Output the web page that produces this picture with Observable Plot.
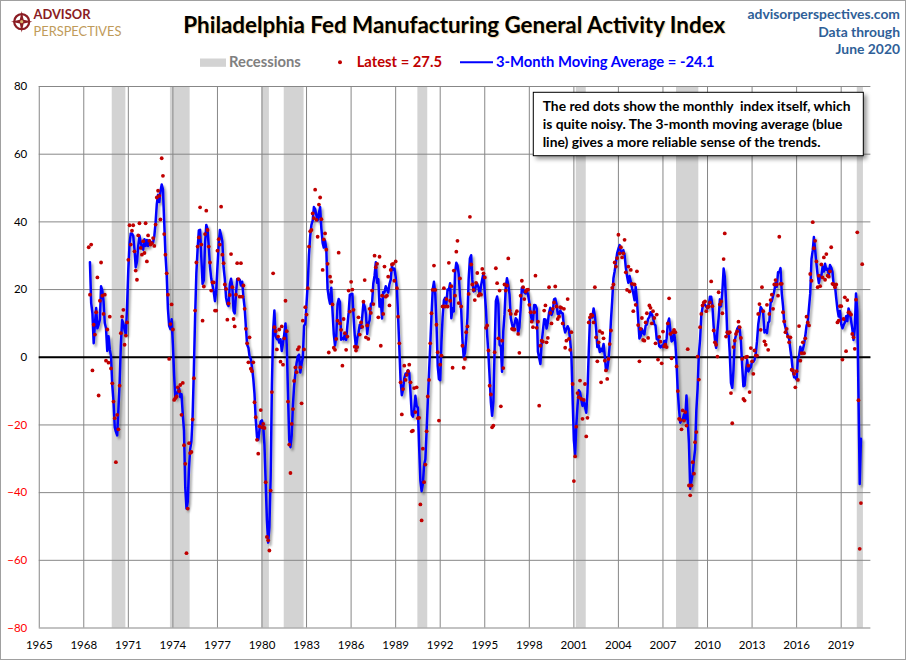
<!DOCTYPE html>
<html>
<head>
<meta charset="utf-8">
<script src="https://cdn.jsdelivr.net/npm/d3@7"></script>
<script src="https://cdn.jsdelivr.net/npm/@observablehq/plot@0.6"></script>
<style>
  html, body { margin: 0; padding: 0; background: #fff; }
  #wrap { position: relative; width: 910px; height: 661px; overflow: hidden; background: #fff; font-family: Lato, "Open Sans", sans-serif; }
  #hdr { display: block; }
  #plot svg { display: block; }
  #note { position: absolute; left: 528px; top: 88px; }
  .logo { position: absolute; left: 33.5px; white-space: nowrap; line-height: normal; font-family: Lato, "Open Sans", sans-serif; }
  #border { position: absolute; left: 0; top: 0; width: 906px; height: 660px; border: 1px solid #a0a0a0; box-sizing: border-box; pointer-events: none; }
</style>
</head>
<body>
<div id="wrap">
  <svg id="hdr" width="910" height="72"></svg>
  <div id="plot"></div>
  <svg id="note" width="345" height="78"></svg>
  <div id="logoA" class="logo" style="font-weight:bold;color:#8b1c23">ADVISOR</div>
  <div id="logoP" class="logo" style="font-weight:normal;color:#bf9b5a">PERSPECTIVES</div>
  <div id="border"></div>
</div>
<script>
// ---------------- DATA ----------------
// Monthly Philadelphia Fed General Activity Index, May 1968 .. June 2020
const firstYear = 1968, firstMonth = 5; // May 1968
const v1968_1979 = [
  32.5, 18.5, 33.3, -3.9, 9.6, 6.7, 13.3, 23.6,                                   // 1968 (May-Dec)
  -11.3, 16.7, 28, 18.2, 12.8, 18.5, -1, 8.2, -1.6, 12, -3.3, -7.7,               // 1969
  -13.1, -18, -31, -17, -21.3, -8.4, 7.1, 12, 14, 3.7, 6.4, 10.3,                 // 1970
  28.8, 39, 33.3, 37.4, 39, 31.3, 25.6, 22.9, 36, 39.6, 32.3, 30.3,               // 1971
  34.3, 30.8, 39.6, 28.3, 36, 34.4, 33.3, 33.7, 35.2, 32.9, 39.2, 47.2,           // 1972
  49.2, 47.7, 40.7, 58.8, 53.6, 36.4, 30.3, 24.8, 18.5, -0.5, 9.8, 15.6,          // 1973
  8.2, -12.6, -12.1, -11.6, -8.9, -10, -8.2, -17, -7.6, -26, -31.5, -57.9,        // 1974
  -44.7, -25.4, -28.3, -28, -18.4, -6.2, 13.8, 28, 32.7, 35.4, 44.3, 33.3,        // 1975
  10.8, 20.9, 36.4, 43.3, 37.6, 32.7, 28, 19.7, 22.1, 22.1, 13.8, 13.8,           // 1976
  31.5, 34.9, 33.3, 44.5, 30.3, 27.8, 21.5, 20.2, 11.1, 15.9, 18.4, 30.5,         // 1977
  20.7, 11.3, 9.1, 18.5, 27.8, 23.1, 17.9, 27.8, 17.9, 21.2, 14.3, 8.4,           // 1978
  4.1, -1.5, 5.9, -3.4, -4.1, -1.5, -13.3, -17.7, -24.4, -28.5, -20.4, -15.6      // 1979
];
const v1980_1989 = [
  -20.7, -19.7, -20.9, -36.9, -53.1, -54.1, -57.1, -39.4, -10.3, 24.8, 8.9, 7.7,  // 1980
  2.3, 6.1, 8.2, -1.3, 9.1, -2.2, 5.6, 16.7, 7.7, -13.1, -25.8, -34.2,            // 1981
  -19.7, -15.3, -7, -3, -4.4, 2.3, 3, -3, -13.6, 10.8, 2.3, 14.8,                 // 1982
  12.6, 20.4, 32.7, 37.2, 37.6, 42.5, 41.1, 49.5, 40.6, 35.6, 45.1, 47.2,         // 1983
  40.8, 25.8, 34.8, 36.6, 31.8, 27.6, 1.4, 23.8, 22.3, 15.6, 2.8, 2.2,            // 1984
  5.4, 10.8, 30.9, 10, 8.1, -2.5, 11.3, 7.1, 2.2, 6.1, 19.7, 13.5,                // 1985
  22.3, 20, 14, 3.1, 2, 3, 11.8, 6.7, 10.3, 9, 16.4, 22.8,                        // 1986
  5.9, 9.4, 5.4, 14.3, 13.1, 19.7, 15.7, 30, 26.6, 27.6, 11.8, 29.7,              // 1987
  3.4, 18.2, 12.8, 26.8, 17.9, 18.2, 23.8, 15.3, 25.8, 27.4, 27.6, 22.6,          // 1988
  28.3, 20.4, 12, 4.1, -7.4, -16.9, -9.4, -2.5, -6.7, -5.2, -4.1, -2.2            // 1989
];
const v1990_1999 = [
  -7.4, -21.9, -21.7, -9.1, -16.2, -8.9, -18, -17.9, -43.5, -48.2, -27, -36.9,    // 1990
  -31.7, -21.9, -11.6, -6.7, 4.1, 13, 19.9, 27.1, 19.9, 9.6, 1.5, -18.7,          // 1991
  -2.2, 0.5, 15, 20.4, 15, 17.2, 15, 27.9, 16.7, 21, -3.1, 25.6,                  // 1992
  18.2, 31.2, 34.4, 16, 23.3, 15, 3.4, -3.1, -0.5, 7.4, 9.1, 18.7,                // 1993
  41.5, 27.4, 21.5, 19.9, 16.9, 22, 24.9, 18.2, 18.7, 18.5, 26.1, 24.8,           // 1994
  23.6, 8.7, 9.4, 2, -8.4, -11, -20.7, -20.2, 1.5, 26.3, 21.9, 5.6,               // 1995
  19.7, -14.5, 4.9, -3.2, 21.5, 19.7, 21.2, 29.2, 13.8, 12.8, 8.4, 8.2,           // 1996
  8.2, 12.8, 13.6, 6.9, 1.3, 18.2, 22.6, 20.7, 17.2, 19.4, 19.9, 20,              // 1997
  15.5, 13.3, 10.5, 8.9, 13.3, 24.1, 8.7, 10.5, -14.3, 3.4, 4.9, 4.6,             // 1998
  13.8, 15.3, 4.4, 5.7, 20.7, 13.1, 10, 14.3, 16.2, 20.9, 15, 11.3                // 1999
];
const v2000_2009 = [
  12, 14.8, 14.6, 10, 14.3, 2.8, 4.9, 17.2, 5.4, 2.2, 7.4, -7.9,                  // 2000
  -36.6, -29.3, -20.5, -10.6, -11.8, -6.9, -12.3, -18.2, -12.6, -7.9, -23.4, -17.9, // 2001
  10.3, 11.8, 12.6, 12.3, 10.3, 20.7, 5.9, -1.2, 4.4, 7.7, -7.4, 7.2,             // 2002
  5.6, -1, -3.9, -6.4, -0.5, 3.9, 7.9, 20.5, 21.5, 28, 26.8, 29.3,                // 2003
  36.2, 30.7, 32.5, 29.5, 30.7, 34.7, 25.1, 19.9, 26.8, 19.4, 25.8, 21.7,         // 2004
  13.6, 21.5, 15.5, 25.4, 9.5, -1.2, 8.4, 11.6, 5.1, 4.9, 10.3, 13,               // 2005
  5.7, 15.3, 14.6, 10, 13.6, 11.6, 4.1, 12.6, -0.7, 6, 4.6, -1.8,                 // 2006
  7.6, 3.2, 3.7, 3, 10, 17.4, 6.9, -0.3, 7.4, 8.1, 7.4, -2.7,                     // 2007
  -10, -18.2, -18.5, -21.3, -15.7, -18.7, -16.2, -20.2, 2.4, -37.9, -40.8, -37.9, // 2008
  -31, -34.4, -25.1, -22.1, 0.2, -6.6, 8.9, 12.8, 15.3, 16.2, 16.5, 13.6          // 2009
];
const v2010_2020 = [
  14.8, 15, 16.2, 22.4, 15.1, 7.9, 4.4, 3.7, 0.2, 19.2, 15.6, 16.5,               // 2010
  13, 29, 36.6, 6.1, 7.4, 7.1, 7.4, -10.6, -19.5, 3, 4.9, 6.9,                    // 2011
  7.7, 10.5, 8.9, 5.7, -0.5, -12.3, -12.8, 0, 0.2, -2.5, -10.3, 2.7,              // 2012
  -1.2, -4.9, 2, 0.5, 0.5, 12.8, 15.7, 8.1, 20.7, 13.6, 4.7, 3.7,                 // 2013
  15.5, 2.2, 12.8, 16.9, 18.5, 14.3, 21.5, 22.8, 21.5, 18.2, 35.6, 21.7,          // 2014
  21.7, 13.3, 10.6, 7.4, 8.4, 6.1, 4.4, 5.9, -3.7, -3.9, -4.9, -8.9,              // 2015
  -4.1, -6.7, 9.2, -1, 1.2, 4.4, 1.2, 5.6, 12, 10.3, 9.4, 24.6,                   // 2016
  22.6, 39.9, 32.2, 34.4, 28.3, 20.7, 24.1, 21, 27.4, 23.6, 29.5, 22.9,           // 2017
  30.5, 24.1, 23.8, 25.4, 32.5, 21.7, 21.5, 20.7, 21.5, 10.3, 10.8, 15.1,         // 2018
  15.1, -0.7, 11.3, 17.7, 1.8, 16.9, 13.3, 13.1, 12.6, 6.9, 5.9, 2.5,             // 2019
  17, 36.9, -12.7, -56.6, -43.1, 27.5                                             // 2020 (Jan-Jun)
];
// NBER recessions (month start .. month end as drawn)
const recessionStart = ["1969-12", "1973-11", "1980-01", "1981-07", "1990-07", "2001-03", "2007-12", "2020-02"];
const recessionEnd   = ["1970-11", "1975-03", "1980-07", "1982-11", "1991-03", "2001-11", "2009-06", "2020-07"];
// Axis ticks
const xTickYears = [1965, 1968, 1971, 1974, 1977, 1980, 1983, 1986, 1989, 1992, 1995, 1998, 2001, 2004, 2007, 2010, 2013, 2016, 2019];
const yTicks = [-80, -60, -40, -20, 0, 20, 40, 60, 80];
const xDomainYears = [1965, 2021];
// Text
const titleText = "Philadelphia Fed Manufacturing General Activity Index";
const noteLines = ["The red dots show the monthly  index itself, which", "is quite noisy. The 3-month moving average (blue", "line) gives a more reliable sense of the trends."];
const rightLines = ["advisorperspectives.com", "Data through", "June 2020"];

// ---------------- BUILD ----------------
const values = [].concat(v1968_1979, v1980_1989, v1990_1999, v2000_2009, v2010_2020);
const data = values.map((v, i) => ({date: new Date(Date.UTC(firstYear, firstMonth - 1 + i, 1)), value: v}));
// 3-month moving average, drawn at the middle month of each 3-month window (as in the reference)
const maData = data.slice(2).map((d, i) => ({date: data[i + 1].date, ma: (values[i] + values[i + 1] + values[i + 2]) / 3}));
const latest = values[values.length - 1];
const latestMA = maData[maData.length - 1].ma;
const parseM = d3.utcParse("%Y-%m");
const recessions = recessionStart.map((s, i) => ({start: parseM(s), end: parseM(recessionEnd[i])}));
const xTicks = xTickYears.map(y => new Date(Date.UTC(y, 0, 1)));
const gridColor = "#878787";
const FONT = "Lato, 'Open Sans', sans-serif";

const chart = Plot.plot({
  width: 910,
  height: 589,
  marginLeft: 38.75,
  marginRight: 39.6,
  marginTop: 14,
  marginBottom: 33.5,
  style: {fontFamily: FONT, fontSize: "11.5px", background: "transparent", color: "#000"},
  x: {type: "utc", domain: xDomainYears.map(y => new Date(Date.UTC(y, 0, 1)))},
  y: {domain: [yTicks[0], yTicks[yTicks.length - 1]]},
  marks: [
    Plot.rect(recessions, {x1: "start", x2: "end", fill: "#d3d3d3"}),
    Plot.gridX(xTicks, {stroke: gridColor, strokeOpacity: 1, strokeWidth: 1}),
    Plot.gridY(yTicks, {stroke: gridColor, strokeOpacity: 1, strokeWidth: 1}),
    Plot.ruleY([0], {stroke: "#000", strokeWidth: 2}),
    Plot.line(maData, {x: "date", y: "ma", stroke: "#0000ff", strokeWidth: 2.5}),
    Plot.dot(data, {x: "date", y: "value", r: 1.9, fill: "#c00000"}),
    Plot.axisX(xTicks, {tickSize: 0, tickPadding: 13, tickFormat: d3.utcFormat("%Y"), label: null, fill: "#000", fontSize: 11.5}),
    Plot.axisY(yTicks.filter(t => t >= 0), {tickSize: 0, tickPadding: 12, label: null, fill: "#000", fontSize: 11.5}),
    Plot.axisY(yTicks.filter(t => t < 0), {tickSize: 0, tickPadding: 12, label: null, fill: "#ff0000", fontSize: 11.5})
  ]
});
document.getElementById("plot").appendChild(chart);

// drop shadow for the moving-average line
const svgSel = d3.select(chart);
const defs = svgSel.insert("defs", ":first-child");
defs.append("filter").attr("id", "lineShadow").attr("x", "-5%").attr("y", "-5%").attr("width", "110%").attr("height", "110%")
  .append("feDropShadow").attr("dx", 2).attr("dy", 2.5).attr("stdDeviation", 1.3)
  .attr("flood-color", "#000").attr("flood-opacity", 0.35);
svgSel.selectAll('g[aria-label="line"]').attr("filter", "url(#lineShadow)");

// ---------------- HEADER ----------------
const hdr = d3.select("#hdr");
function addText(sel, txt, x, y, opts) {
  const t = sel.append("text").attr("x", x).attr("y", y).text(txt)
    .attr("font-family", FONT).attr("font-size", opts.size || 13)
    .attr("font-weight", opts.weight || "bold").attr("fill", opts.fill || "#000")
    .attr("text-anchor", opts.anchor || "start").style("white-space", "pre");
  return t;
}
function fitSize(t, width) {
  const fs = parseFloat(t.attr("font-size"));
  const w = t.node().getComputedTextLength();
  const nfs = fs * width / w;
  t.attr("font-size", nfs);
  return nfs;
}
// logo mark
const logo = hdr.append("g");
logo.append("circle").attr("cx", 21.7).attr("cy", 21.7).attr("r", 7.5).attr("fill", "none").attr("stroke", "#8b1c23").attr("stroke-width", 2.2);
logo.append("polygon").attr("points", "21.7,11 23.6,19.8 32.4,21.7 23.6,23.6 21.7,32.4 19.8,23.6 11,21.7 19.8,19.8").attr("fill", "#8b1c23");
logo.append("circle").attr("cx", 21.7).attr("cy", 21.7).attr("r", 1.6).attr("fill", "#d8b56a");
// logo words, stacked so that their text boxes just touch
function sizeLogo(id, targetWidth) {
  const el = document.getElementById(id);
  el.style.fontSize = "12px";
  const w = el.getBoundingClientRect().width;
  const fs = 12 * targetWidth / w;
  el.style.fontSize = fs + "px";
  return el;
}
const eA = sizeLogo("logoA", 57);
const fsA = parseFloat(eA.style.fontSize);
eA.style.top = (19.2 - 0.987 * fsA) + "px";
const eP = sizeLogo("logoP", 88);
const bottomA = eA.getBoundingClientRect().bottom - document.getElementById("wrap").getBoundingClientRect().top;
eP.style.top = (bottomA + 0.4) + "px";
// title
const tT = addText(hdr, titleText, 183.3, 33.3, {size: 21, fill: "#000"});
tT.style("text-shadow", "1px 1px 1px rgba(230,160,40,0.45)");
fitSize(tT, 542);
// right block
const r0 = addText(hdr, rightLines[0], 900, 19, {size: 13, fill: "#2f5f98", anchor: "end"});
const rs = fitSize(r0, 152.7);
addText(hdr, rightLines[1], 900, 36.7, {size: rs, fill: "#2f5f98", anchor: "end"});
addText(hdr, rightLines[2], 900, 54.3, {size: rs, fill: "#2f5f98", anchor: "end"});
// legend
hdr.append("rect").attr("x", 200).attr("y", 58.5).attr("width", 26).attr("height", 8.3).attr("fill", "#d3d3d3");
const l3 = addText(hdr, "3-Month Moving Average = " + latestMA.toFixed(1), 496, 66.7, {size: 13, fill: "#0000ff"});
const ls = fitSize(l3, 219);
addText(hdr, "Recessions", 229, 66.7, {size: ls, fill: "#808080"});
hdr.append("circle").attr("cx", 340).attr("cy", 62.2).attr("r", 2).attr("fill", "#c00000");
addText(hdr, "Latest = " + latest.toFixed(1), 356.7, 66.7, {size: ls, fill: "#c00000"});
hdr.append("line").attr("x1", 460).attr("x2", 493).attr("y1", 62.3).attr("y2", 62.3).attr("stroke", "#0000ff").attr("stroke-width", 2);

// ---------------- NOTE BOX ----------------
const note = d3.select("#note");
note.append("defs").append("filter").attr("id", "boxShadow").attr("x", "-10%").attr("y", "-10%").attr("width", "125%").attr("height", "135%")
  .append("feDropShadow").attr("dx", 3).attr("dy", 3).attr("stdDeviation", 2).attr("flood-color", "#000").attr("flood-opacity", 0.4);
note.append("rect").attr("x", 5.3).attr("y", 4.3).attr("width", 330).attr("height", 63.4)
  .attr("fill", "#fff").attr("stroke", "#000").attr("stroke-width", 1).attr("filter", "url(#boxShadow)");
const n0 = addText(note, noteLines[0], 14.7, 23, {size: 13, fill: "#000"});
const ns = fitSize(n0, 308);
addText(note, noteLines[1], 14.7, 41, {size: ns, fill: "#000"});
addText(note, noteLines[2], 14.7, 58.7, {size: ns, fill: "#000"});
</script>
</body>
</html>
